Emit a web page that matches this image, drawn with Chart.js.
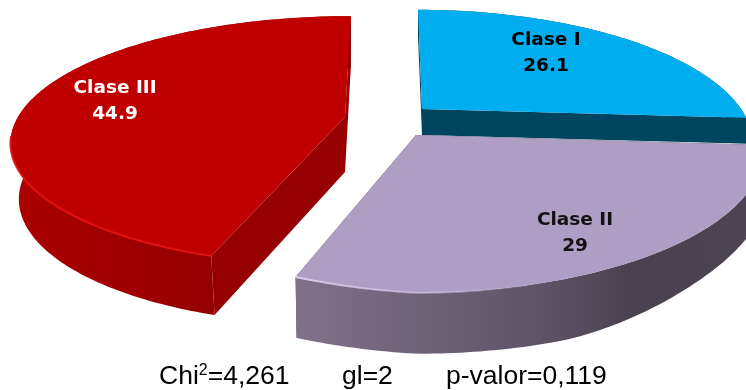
<!DOCTYPE html>
<html>
<head>
<meta charset="utf-8">
<title>Clase</title>
<script src="https://cdn.jsdelivr.net/npm/chart.js@4"></script>
<style>
  html, body { margin: 0; padding: 0; background: #fff; }
  canvas { display: block; }
</style>
</head>
<body>
<canvas id="pie" width="746" height="390"></canvas>
<script>
const categories = ['Clase I', 'Clase II', 'Clase III'];
const percents = [26.1, 29, 44.9];
const footerStats = ['=4,261', 'gl=2', 'p-valor=0,119'];

// Each exploded slice has its own projection of the unit disc onto the page.
// p = perspective, sx = lean of the back edge, tilt = lift of the left half,
// fx/fy = scale of the lower rim, taper = wall height lost towards the right
const sliceViews = [
  { cx: 422, cy: 109, rx: 319, ry: 124, p: 0.25, sx: -5, tilt: 0, depth: 26, taper: 0, dx: 0, fx: 1, fy: 1,
    top: '#00aeef', cut: '#00455f', wall: [[0, '#00455f'], [1, '#00455f']],
    text: '#000', labelX: 546, labelY: 40 },
  { cx: 416, cy: 135, rx: 346, ry: 142, p: 0.1, sx: 0, tilt: 20, depth: 61, taper: 18, dx: 1, fx: 1, fy: 1,
    top: '#ae9ec3', cut: '#4a4150', wall: [[0, '#807189'], [0.5, '#5f5568'], [0.72, '#4a4150'], [1, '#4e4553']],
    rim: [[0, 'rgba(222,208,240,0.95)'], [0.35, 'rgba(205,190,225,0.5)'], [0.55, 'rgba(174,158,195,0)'], [1, 'rgba(174,158,195,0)']],
    text: '#111', labelX: 575, labelY: 220 },
  { cx: 345, cy: 117, rx: 327, ry: 120, p: 0.19, sx: 7, tilt: 0, depth: 55, taper: 0, dx: 0, fx: 0.975, fy: 1.03,
    top: '#c00000', cut: '#960000', wall: [[0, '#ab0000'], [0.5, '#980000'], [1, '#860000']],
    rim: [[0, 'rgba(232,16,16,0.9)'], [0.8, 'rgba(232,16,16,0.9)'], [1, 'rgba(232,16,16,0.7)']],
    text: '#fff', labelX: 115, labelY: 88 }
];

// back slice first so the nearer ones paint over it
const paintOrder = [0, 2, 1];

function projectTop(v, theta) {
  const u = Math.sin(theta);
  const d = Math.cos(theta);
  const w = 1 / (1 + v.p * d);
  return { x: (v.rx * u + v.sx * d) * w, y: (-v.ry * d + v.tilt * Math.min(u, 0)) * w };
}

function topPoint(v, theta) {
  const q = projectTop(v, theta);
  return { x: v.cx + q.x, y: v.cy + q.y };
}

function lowPoint(v, theta) {
  const q = projectTop(v, theta);
  const s = Math.min(1, Math.max(0, (Math.sin(theta) - 0.35) / 0.6));
  const drop = v.depth - v.taper * s * s * (3 - 2 * s);
  return { x: v.cx + v.dx + q.x * v.fx, y: v.cy + drop + q.y * v.fy };
}

function rimAngles(start, end) {
  const out = [];
  const steps = Math.ceil((end - start) / (Math.PI / 180));
  for (let i = 0; i <= steps; i++) out.push(start + (end - start) * i / steps);
  return out;
}

function fillPoly(ctx, pts, fill) {
  ctx.beginPath();
  pts.forEach((pt, i) => (i ? ctx.lineTo(pt.x, pt.y) : ctx.moveTo(pt.x, pt.y)));
  ctx.closePath();
  ctx.fillStyle = fill;
  ctx.fill();
}

function sideGradient(ctx, pts, stops) {
  const xs = pts.map(pt => pt.x);
  const g = ctx.createLinearGradient(Math.min(...xs), 0, Math.max(...xs), 0);
  stops.forEach(s => g.addColorStop(s[0], s[1]));
  return g;
}

function drawSlice(ctx, arc, v) {
  // Chart.js measures from 3 o'clock, the projection from 12 o'clock
  const start = arc.startAngle + Math.PI / 2;
  const end = arc.endAngle + Math.PI / 2;
  const angles = rimAngles(start, end);
  const apexTop = { x: v.cx, y: v.cy };
  const apexLow = { x: v.cx + v.dx, y: v.cy + v.depth };
  const topRim = angles.map(t => topPoint(v, t));
  const lowRim = angles.map(t => lowPoint(v, t));

  // cut faces
  fillPoly(ctx, [apexTop, topPoint(v, start), lowPoint(v, start), apexLow], v.cut);
  fillPoly(ctx, [apexTop, topPoint(v, end), lowPoint(v, end), apexLow], v.cut);

  // outer wall
  const wall = topRim.concat(lowRim.slice().reverse());
  fillPoly(ctx, wall, sideGradient(ctx, wall, v.wall));

  // top face
  fillPoly(ctx, [apexTop].concat(topRim), v.top);

  // light catching the front edge
  if (v.rim) {
    const front = topRim.filter((pt, i) => Math.cos(angles[i]) < -0.15);
    ctx.beginPath();
    front.forEach((pt, i) => (i ? ctx.lineTo(pt.x, pt.y) : ctx.moveTo(pt.x, pt.y)));
    ctx.lineWidth = 2;
    ctx.strokeStyle = sideGradient(ctx, front, v.rim);
    ctx.stroke();
  }
}

const pie3d = {
  id: 'pie3d',
  beforeDatasetDraw(chart) {
    const ctx = chart.ctx;
    const arcs = chart.getDatasetMeta(0).data;
    ctx.save();
    paintOrder.forEach(i => drawSlice(ctx, arcs[i], sliceViews[i]));
    ctx.restore();
    return false;
  },
  afterDraw(chart) {
    const ctx = chart.ctx;
    ctx.save();
    ctx.textAlign = 'center';
    ctx.textBaseline = 'middle';
    ctx.font = 'bold 18.5px "DejaVu Sans"';
    categories.forEach((name, i) => {
      const v = sliceViews[i];
      ctx.fillStyle = v.text;
      ctx.fillText(name, v.labelX, v.labelY);
      ctx.fillText(String(percents[i]), v.labelX, v.labelY + 26);
    });

    ctx.fillStyle = '#000';
    ctx.textAlign = 'left';
    ctx.textBaseline = 'alphabetic';
    ctx.font = '26.5px "Liberation Sans"';
    const lead = 'Chi';
    ctx.fillText(lead, 159, 384);
    const leadW = ctx.measureText(lead).width;
    ctx.font = '16px "Liberation Sans"';
    ctx.fillText('2', 159 + leadW, 375);
    const supW = ctx.measureText('2').width;
    ctx.font = '26.5px "Liberation Sans"';
    ctx.fillText(footerStats[0], 159 + leadW + supW, 384);
    ctx.fillText(footerStats[1], 342, 384);
    ctx.fillText(footerStats[2], 446, 384);
    ctx.restore();
  }
};

new Chart(document.getElementById('pie'), {
  type: 'pie',
  data: {
    labels: categories,
    datasets: [{ data: percents, backgroundColor: sliceViews.map(v => v.top), borderWidth: 0 }]
  },
  options: {
    responsive: false,
    animation: false,
    rotation: 0,
    plugins: { legend: { display: false }, tooltip: { enabled: false } }
  },
  plugins: [pie3d]
});
</script>
</body>
</html>
